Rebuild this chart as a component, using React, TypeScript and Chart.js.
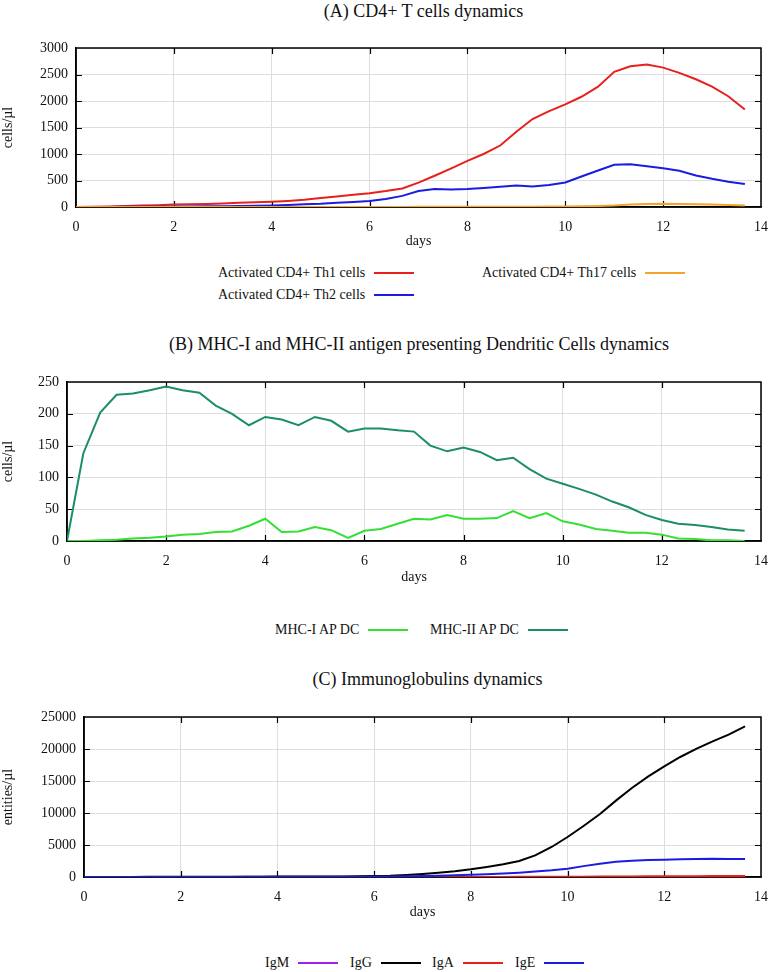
import React, { useEffect, useRef } from 'react';
import { Chart, registerables } from 'chart.js';

const FONT = "'Liberation Serif', 'Times New Roman', serif";

// x values (days), shared by all series
const DAYS = [0, 0.33, 0.67, 1, 1.33, 1.67, 2, 2.33, 2.67, 3, 3.33, 3.67, 4, 4.33, 4.67, 5, 5.33, 5.67, 6, 6.33, 6.67, 7, 7.33, 7.67, 8, 8.33, 8.67, 9, 9.33, 9.67, 10, 10.33, 10.67, 11, 11.33, 11.67, 12, 12.33, 12.67, 13, 13.33, 13.67];
const X_TICKS = [0, 2, 4, 6, 8, 10, 12, 14];

// (A) CD4+ T cells
const TH1 = [0, 5, 10, 20, 30, 35, 45, 50, 55, 65, 80, 90, 100, 115, 135, 170, 200, 230, 260, 300, 350, 460, 590, 730, 870, 1000, 1160, 1420, 1660, 1810, 1935, 2080, 2270, 2550, 2655, 2690, 2630, 2530, 2410, 2270, 2090, 1840];
const TH2 = [0, 1, 2, 3, 5, 6, 8, 10, 12, 15, 20, 25, 30, 40, 50, 60, 80, 95, 115, 150, 210, 300, 338, 332, 338, 357, 382, 407, 388, 413, 463, 576, 689, 795, 808, 770, 733, 683, 595, 532, 476, 432];
const TH17 = [0, 0, 0, 0, 0, 0, 0, 0, 0, 0, 1, 1, 1, 1, 1, 1, 2, 2, 2, 2, 2, 3, 3, 3, 4, 4, 5, 6, 7, 8, 10, 14, 20, 28, 45, 55, 60, 55, 50, 45, 38, 30];

// (B) Dendritic cells
const MHC1 = [0, 0, 1, 2, 4, 5, 7, 10, 11, 14, 15, 24, 35, 14, 15, 22, 17, 5, 16, 19, 27, 35, 34, 41, 35, 35, 36, 47, 36, 44, 31, 26, 19, 16, 13, 13, 10, 4, 3, 1, 1, 0];
const MHC2 = [0, 138, 202, 230, 232, 237, 243, 237, 233, 213, 200, 182, 195, 191, 182, 195, 189, 172, 177, 177, 174, 172, 150, 141, 147, 140, 127, 131, 113, 98, 90, 82, 73, 62, 53, 41, 33, 27, 25, 22, 18, 16];

// (C) Immunoglobulins
const IGM = [0, 1, 1, 2, 2, 3, 3, 4, 4, 5, 5, 6, 6, 7, 7, 8, 8, 9, 9, 10, 10, 11, 11, 12, 12, 12, 13, 13, 13, 14, 14, 14, 14, 15, 15, 15, 15, 15, 15, 15, 15, 15];
const IGG = [0, 5, 10, 15, 20, 25, 30, 35, 40, 45, 50, 55, 60, 65, 70, 80, 90, 110, 140, 190, 300, 450, 650, 900, 1200, 1560, 1980, 2500, 3380, 4690, 6250, 7970, 9840, 11930, 13900, 15730, 17290, 18750, 20050, 21200, 22240, 23540];
const IGA = [0, 0, 0, 0, 0, 0, 1, 1, 1, 1, 2, 2, 2, 2, 3, 3, 3, 4, 4, 5, 6, 7, 8, 10, 12, 14, 17, 20, 25, 32, 40, 50, 62, 75, 88, 100, 112, 122, 132, 140, 148, 155];
const IGE = [0, 2, 4, 6, 8, 10, 12, 14, 16, 18, 20, 22, 25, 28, 32, 36, 45, 55, 70, 90, 120, 160, 210, 270, 350, 430, 540, 680, 850, 1050, 1300, 1700, 2080, 2400, 2550, 2650, 2710, 2760, 2810, 2860, 2820, 2800];

type Series = { label: string; color: string; values: number[] };

const SERIES_A: Series[] = [
  { label: 'Activated CD4+ Th1 cells', color: '#e8201c', values: TH1 },
  { label: 'Activated CD4+ Th2 cells', color: '#1c1ce0', values: TH2 },
  { label: 'Activated CD4+ Th17 cells', color: '#f3a52a', values: TH17 },
];
const SERIES_B: Series[] = [
  { label: 'MHC-I AP DC', color: '#33e033', values: MHC1 },
  { label: 'MHC-II AP DC', color: '#1b8f62', values: MHC2 },
];
const SERIES_C: Series[] = [
  { label: 'IgM', color: '#a020f0', values: IGM },
  { label: 'IgG', color: '#000000', values: IGG },
  { label: 'IgA', color: '#e8201c', values: IGA },
  { label: 'IgE', color: '#1c1ce0', values: IGE },
];

function drawFrame(chart: any) {
  const ctx = chart.ctx;
  const a = chart.chartArea;
  const sx = chart.scales.x;
  const sy = chart.scales.y;
  if (!a || !sx || !sy) return;
  ctx.save();
  ctx.strokeStyle = '#000000';
  ctx.lineWidth = 1.5;
  ctx.beginPath();
  ctx.rect(a.left, a.top, a.right - a.left, a.bottom - a.top);
  ctx.stroke();
  const L = 6;
  ctx.beginPath();
  for (const v of X_TICKS) {
    const px = Math.round(sx.getPixelForValue(v)) + 0.5;
    if (px <= a.left + 1 || px >= a.right - 1) continue;
    ctx.moveTo(px, a.bottom); ctx.lineTo(px, a.bottom - L);
    ctx.moveTo(px, a.top); ctx.lineTo(px, a.top + L);
  }
  for (const t of sy.ticks) {
    const py = Math.round(sy.getPixelForValue(t.value)) + 0.5;
    if (py <= a.top + 1 || py >= a.bottom - 1) continue;
    ctx.moveTo(a.left, py); ctx.lineTo(a.left + L, py);
    ctx.moveTo(a.right, py); ctx.lineTo(a.right - L, py);
  }
  ctx.lineWidth = 1.2;
  ctx.stroke();
  ctx.restore();
}

const framePlugin = {
  id: 'gnuFrame',
  beforeDatasetsDraw(chart: any) {
    drawFrame(chart);
  },
};

Chart.register(...registerables, framePlugin);

type PanelSpec = {
  top: number;
  height: number;
  padTop: number;
  yWidth: number;
  xHeight: number;
  xTitlePad: number;
  yMax: number;
  yStep: number;
  yTitle: string;
  series: Series[];
};

const plainTick = (v: any) => String(v);

function ChartPanel({ spec }: { spec: PanelSpec }) {
  const ref = useRef<HTMLCanvasElement | null>(null);
  useEffect(() => {
    if (!ref.current) return;
    const n = spec.series.length;
    const chart = new Chart(ref.current, {
      type: 'line',
      data: {
        datasets: spec.series.map((s, i) => ({
          label: s.label,
          data: DAYS.map((d, j) => ({ x: d, y: s.values[j] })),
          borderColor: s.color,
          backgroundColor: s.color,
          borderWidth: 2,
          pointRadius: 0,
          tension: 0,
          fill: false,
          order: n - i,
        })),
      },
      options: {
        responsive: false,
        animation: false,
        devicePixelRatio: 1,
        layout: { padding: { top: spec.padTop, right: 9, bottom: 0, left: 0 } },
        plugins: { legend: { display: false }, title: { display: false }, tooltip: { enabled: false } },
        scales: {
          x: {
            type: 'linear',
            min: 0,
            max: 14,
            afterBuildTicks: (scale: any) => {
              scale.ticks = X_TICKS.map((v) => ({ value: v }));
            },
            afterFit: (scale: any) => {
              scale.height = spec.xHeight;
            },
            grid: { color: '#dddddd', lineWidth: 1, drawTicks: false },
            border: { display: true, color: '#000000', width: 1.5 },
            ticks: { padding: 12, color: '#111', font: { family: FONT, size: 14 }, maxRotation: 0, callback: plainTick },
            title: { display: true, text: 'days', color: '#111', font: { family: FONT, size: 14 }, padding: { top: 0, bottom: spec.xTitlePad } },
          },
          y: {
            type: 'linear',
            min: 0,
            max: spec.yMax,
            ticks: { stepSize: spec.yStep, padding: 8, color: '#111', font: { family: FONT, size: 14 }, callback: plainTick },
            afterFit: (scale: any) => {
              scale.width = spec.yWidth;
            },
            grid: { color: '#dddddd', lineWidth: 1, drawTicks: false },
            border: { display: true, color: '#000000', width: 1.5 },
            title: { display: true, text: spec.yTitle, color: '#111', font: { family: FONT, size: 14 }, padding: { top: 0, bottom: 0 } },
          },
        },
      },
    } as any);
    return () => chart.destroy();
  }, [spec]);
  return (
    <canvas
      ref={ref}
      width={780}
      height={spec.height}
      style={{ position: 'absolute', left: 0, top: spec.top, width: 780, height: spec.height }}
    />
  );
}

const PANEL_A: PanelSpec = { top: 0, height: 255, padTop: 48, yWidth: 76, xHeight: 48, xTitlePad: 5.6, yMax: 3000, yStep: 500, yTitle: 'cells/µl', series: SERIES_A };
const PANEL_B: PanelSpec = { top: 330, height: 265, padTop: 52, yWidth: 67, xHeight: 54, xTitlePad: 9.6, yMax: 250, yStep: 50, yTitle: 'cells/µl', series: SERIES_B };
const PANEL_C: PanelSpec = { top: 640, height: 290, padTop: 77, yWidth: 84, xHeight: 53, xTitlePad: 9.6, yMax: 25000, yStep: 5000, yTitle: 'entities/µl', series: SERIES_C };

const textStyle: React.CSSProperties = { fontFamily: FONT, color: '#111', whiteSpace: 'nowrap', position: 'absolute' };

function Title({ text, cx, cy }: { text: string; cx: number; cy: number }) {
  return (
    <div style={{ ...textStyle, left: cx, top: cy - 11, fontSize: 18, lineHeight: '22px', transform: 'translateX(-50%)' }}>{text}</div>
  );
}

function LegendItem({ s, left, cy }: { s: Series; left: number; cy: number }) {
  return (
    <div style={{ ...textStyle, left, top: cy - 10, height: 20, display: 'flex', alignItems: 'center', fontSize: 14, lineHeight: '20px' }}>
      <span>{s.label}</span>
      <span style={{ display: 'inline-block', width: 40, height: 2, background: s.color, marginLeft: 9 }} />
    </div>
  );
}

export default function App() {
  return (
    <div style={{ position: 'absolute', left: 0, top: 0, width: 780, height: 972, background: '#fff', overflow: 'hidden' }}>
      <Title text="(A) CD4+ T cells dynamics" cx={423.5} cy={11} />
      <ChartPanel spec={PANEL_A} />
      <LegendItem s={SERIES_A[0]} left={218} cy={273} />
      <LegendItem s={SERIES_A[2]} left={482} cy={273} />
      <LegendItem s={SERIES_A[1]} left={218} cy={295} />

      <Title text="(B) MHC-I and MHC-II antigen presenting Dendritic Cells dynamics" cx={419} cy={344} />
      <ChartPanel spec={PANEL_B} />
      <LegendItem s={SERIES_B[0]} left={275} cy={630} />
      <LegendItem s={SERIES_B[1]} left={430} cy={630} />

      <Title text="(C) Immunoglobulins dynamics" cx={427.5} cy={679} />
      <ChartPanel spec={PANEL_C} />
      <LegendItem s={SERIES_C[0]} left={265} cy={963} />
      <LegendItem s={SERIES_C[1]} left={350} cy={963} />
      <LegendItem s={SERIES_C[2]} left={432} cy={963} />
      <LegendItem s={SERIES_C[3]} left={515} cy={963} />
    </div>
  );
}
